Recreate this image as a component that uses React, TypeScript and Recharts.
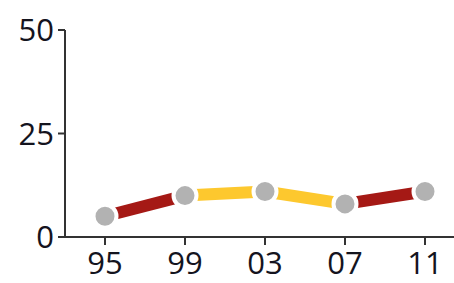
import { LineChart, Line, XAxis, YAxis } from 'recharts';

const years = ['95', '99', '03', '07', '11'];
const values = [5, 10, 11, 8, 11];
// colour of the segment that starts at each point
const segColors = ['#a51915', '#fdc82e', '#fdc82e', '#a51915'];
const yTicks = [0, 25, 50];

const chartData = years.map((year, i) => {
  const row: any = { year, value: values[i] };
  segColors.forEach((_, s) => {
    row['s' + s] = i === s || i === s + 1 ? values[i] : null;
  });
  return row;
});

const textStyle = { fill: '#14141e', fontSize: 31, fontFamily: 'Open Sans' };

export default function App() {
  return (
    <div style={{ position: 'absolute', left: 0, top: 0, background: '#fff' }}>
      <LineChart width={456} height={283} data={chartData} margin={{ top: 30, right: 0, left: 0, bottom: 0 }}>
        <XAxis
          dataKey="year"
          height={46}
          padding={{ left: 40, right: 31 }}
          stroke="#333"
          strokeWidth={2}
          tickSize={8}
          tick={textStyle}
          tickMargin={7}
          interval={0}
        />
        <YAxis
          width={65}
          domain={[0, 50]}
          ticks={yTicks}
          stroke="#333"
          strokeWidth={2}
          tickSize={7}
          tickMargin={4}
          tick={textStyle}
        />
        {segColors.map((c, s) => (
          <Line
            key={s}
            dataKey={'s' + s}
            stroke={c}
            strokeWidth={12}
            dot={false}
            activeDot={false}
            connectNulls={false}
            isAnimationActive={false}
          />
        ))}
        <Line
          dataKey="value"
          stroke="none"
          dot={{ r: 11.5, fill: '#b2b2b2', stroke: '#fff', strokeWidth: 4 }}
          activeDot={false}
          isAnimationActive={false}
        />
      </LineChart>
    </div>
  );
}
